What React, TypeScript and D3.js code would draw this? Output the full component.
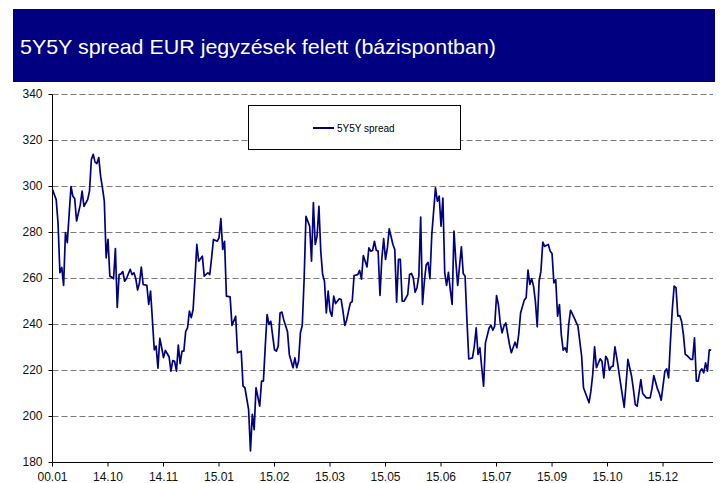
import React, { useEffect, useRef } from 'react';
import * as d3 from 'd3';

// observation number (trading day) and 5Y5Y spread in basis points
const obs = [
  0, 2, 3, 4, 5, 6, 7, 8, 9, 10, 11, 12, 13, 15, 16, 17, 19, 20, 21, 22, 23, 24, 25, 26, 27, 28, 29, 30,
  31, 32, 33, 34, 35, 36, 37, 38, 39, 40, 42, 43, 44, 45, 46, 47, 48, 49, 51, 52, 53, 54, 55, 56, 57, 58,
  59, 60, 61, 63, 64, 65, 66, 67, 68, 69, 70, 71, 72, 73, 74, 75, 76, 77, 78, 79, 81, 82, 84, 85, 86, 87,
  89, 90, 91, 92, 93, 94, 96, 97, 99, 100, 102, 103, 104, 106, 107, 108, 109, 110, 112, 113, 114, 115,
  116, 117, 118, 120, 121, 122, 123, 124, 125, 127, 128, 130, 131, 132, 133, 134, 135, 136, 137, 139,
  140, 141, 142, 143, 144, 145, 146, 147, 148, 149, 150, 151, 152, 153, 155, 156, 157, 158, 159, 160,
  161, 162, 163, 165, 166, 167, 168, 170, 171, 172, 173, 174, 175, 176, 177, 178, 179, 180, 181, 182,
  184, 185, 186, 187, 188, 189, 190, 192, 193, 194, 195, 196, 197, 198, 199, 200, 201, 202, 203, 204,
  205, 207, 208, 209, 210, 211, 212, 213, 214, 215, 216, 217, 218, 219, 221, 222, 223, 224, 225, 227,
  228, 229, 230, 231, 232, 233, 234, 236, 237, 238, 239, 240, 241, 242, 243, 244, 245, 247, 248, 250,
  251, 252, 253, 255, 256, 257, 258, 259, 260, 261, 262, 263, 264, 265, 266, 268, 269, 270, 271, 272,
  273, 274, 275, 276, 277, 278, 279, 280, 282, 283, 284, 286, 287, 288, 290, 291, 292, 293, 294, 296,
  297, 298, 299, 300, 301, 302, 303, 304, 305, 307, 309, 310, 311, 313, 314, 315, 316, 318, 319, 321,
  323, 324, 325, 327, 328, 329, 331, 332, 333, 334, 335, 336, 337, 338, 339, 340, 341, 342, 343, 345,
  346, 347, 348, 349, 350, 351, 352, 353, 354, 355, 356
];

const spread = [
  298.7, 294.3, 284, 262.5, 264.8, 257, 280, 275.6, 288, 300, 295.8, 294.8, 285, 292, 298, 291.4, 294.3,
  298, 311.7, 314, 310.6, 310, 312.6, 304.5, 299.4, 293.6, 269, 277, 261, 260.6, 259.9, 273, 247.4,
  261.7, 262, 263, 258.8, 260, 264, 261.7, 262.5, 260, 255, 258, 265, 257.4, 257, 248.7, 254.5, 242,
  229, 230.6, 221, 234, 230, 225.6, 228.7, 226, 219.7, 224.3, 224, 219.7, 231, 223, 228.4, 228.4, 237,
  238.5, 245.8, 243, 246.5, 259.6, 274.8, 267.5, 269.7, 261, 262.5, 261.7, 269, 277, 276.2, 277.7, 286,
  272.6, 276.2, 252.3, 252, 239.6, 243.6, 227.7, 228.4, 213.2, 212.5, 203, 185, 200.9, 194.3, 212.5,
  204.5, 215.4, 215.4, 230.6, 244.3, 240, 241.4, 229, 228.4, 230.6, 245, 245.4, 242, 237, 227, 221.2,
  225.5, 221.2, 224, 236.4, 239.6, 259.6, 287, 282.7, 267.5, 293, 274.8, 278.4, 291.4, 271.9, 261.7,
  258.8, 245, 254.5, 245.8, 243.6, 252.3, 249.1, 251.2, 250.9, 245.8, 239.6, 242, 245.8, 249.4, 250,
  261.3, 261.7, 263.5, 259.7, 270, 265, 273.3, 271.9, 272.2, 276.2, 272.3, 271.9, 252.6, 268.6, 277.3,
  268.3, 273.3, 281.6, 274.8, 272.6, 249.7, 268.3, 268.3, 250.1, 250.1, 253, 261.7, 262.2, 260.3, 254,
  256, 261, 286.7, 248.7, 258.8, 266, 267, 259.9, 279, 299.4, 293.6, 295.8, 282.7, 295, 262.5, 257,
  262.7, 255.2, 248.7, 280.6, 267.5, 257, 273.8, 262.2, 261, 242, 225, 225.5, 230.6, 238.5, 227, 229.9,
  221.2, 213.2, 232, 238.5, 239.7, 237.5, 239.3, 252.6, 248.7, 240.7, 236.4, 239.3, 240.7, 231.3, 227.7,
  232.3, 229.9, 235.7, 245, 250.6, 251.6, 263.6, 257.4, 259.9, 256.7, 250.1, 239, 258.8, 263.2, 275.8,
  274, 274.8, 271.9, 270.9, 258.1, 259.5, 243.6, 248.7, 235.7, 228.8, 229.9, 228, 240, 246.2, 242.9,
  241, 239.3, 226.2, 212.5, 210.3, 206, 211, 218.3, 230.3, 221.2, 225.1, 224, 216.8, 226.2, 224.8,
  220.1, 221.6, 221.9, 230.3, 225.5, 214.6, 204, 213.9, 224.8, 217.5, 211.7, 205.2, 204.5, 216, 210,
  208.1, 208.1, 212, 217.8, 212, 210, 207.1, 219.7, 220.7, 216.8, 232.7, 246.5, 256.7, 256, 243.6,
  243.9, 241.4, 235.7, 227, 226.5, 224.8, 224.8, 234.2, 215.4, 215.4, 219.7, 220.7, 219, 223.3, 219.7,
  229, 228.8
];

const obsCount = 358;
const xTickStep = 30;
const xTickLabels = ['00.01', '14.10', '14.11', '15.01', '15.02', '15.03', '15.05', '15.06', '15.07', '15.09', '15.10', '15.12'];
const yTicks = [180, 200, 220, 240, 260, 280, 300, 320, 340];

const title = '5Y5Y spread EUR jegyzések felett (bázispontban)';
const seriesName = '5Y5Y spread';

const FONT = "'Liberation Sans', Arial, Helvetica, sans-serif";
const NAVY = '#000080';

const App = () => {
  const ref = useRef<SVGSVGElement>(null);

  useEffect(() => {
    const svg = d3.select(ref.current);
    svg.selectAll('*').remove();

    const plot = { left: 52.5, right: 713, top: 94.5, bottom: 462.5 };

    const xScale = d3.scaleLinear().domain([0, obsCount - 1]).range([plot.left, plot.right]);
    const yScale = d3.scaleLinear().domain([180, 340]).range([plot.bottom, plot.top]);

    svg.append('rect').attr('width', 720).attr('height', 483).attr('fill', '#fff');

    // title banner
    svg.append('rect')
      .attr('x', 13).attr('y', 9).attr('width', 702).attr('height', 73)
      .attr('fill', NAVY);
    svg.append('text')
      .attr('x', 20).attr('y', 53.5)
      .attr('textLength', 476).attr('lengthAdjust', 'spacingAndGlyphs')
      .style('font-family', FONT).style('font-size', '21px')
      .attr('fill', '#fff')
      .text(title);

    // gridlines
    svg.append('g')
      .selectAll('line')
      .data(yTicks.filter((t) => t > 180))
      .join('line')
      .attr('x1', plot.left).attr('x2', plot.right)
      .attr('y1', (d) => yScale(d)).attr('y2', (d) => yScale(d))
      .attr('stroke', '#7a7a7a')
      .attr('stroke-dasharray', '6,3');

    // y axis
    const yAxis = d3.axisLeft(yScale).tickValues(yTicks).tickSize(4).tickSizeOuter(0).tickPadding(6).offset(0);
    const gy = svg.append('g').attr('transform', `translate(${plot.left},0)`).call(yAxis);

    // x axis
    const xAxis = d3.axisBottom(xScale)
      .tickValues(d3.range(0, xTickLabels.length * xTickStep, xTickStep))
      .tickFormat((d, i) => xTickLabels[i])
      .tickSize(4).tickSizeOuter(0).tickPadding(6).offset(0);
    const gx = svg.append('g').attr('transform', `translate(0,${plot.bottom})`).call(xAxis);

    [gx, gy].forEach((g) => {
      g.selectAll('path').attr('stroke', '#000');
      g.selectAll('line').attr('stroke', '#000');
      g.selectAll('text')
        .style('font-family', FONT).style('font-size', '12px').attr('fill', '#111');
    });

    // series line
    const line = d3.line<number>()
      .x((i) => xScale(obs[i]))
      .y((i) => yScale(spread[i]));
    svg.append('path')
      .attr('d', line(d3.range(spread.length)))
      .attr('fill', 'none')
      .attr('stroke', NAVY)
      .attr('stroke-width', 1.7)
      .attr('stroke-linejoin', 'round');

    // legend
    const legend = svg.append('g');
    legend.append('rect')
      .attr('x', 248.5).attr('y', 105.5).attr('width', 212).attr('height', 44)
      .attr('fill', '#fff').attr('stroke', '#000');
    legend.append('line')
      .attr('x1', 313).attr('x2', 334).attr('y1', 128).attr('y2', 128)
      .attr('stroke', NAVY).attr('stroke-width', 2);
    legend.append('text')
      .attr('x', 337).attr('y', 131.5)
      .style('font-family', FONT).style('font-size', '10px')
      .attr('fill', '#000')
      .text(seriesName);
  }, []);

  return (
    <svg
      ref={ref}
      width={720}
      height={483}
      style={{ position: 'absolute', left: 0, top: 0, display: 'block' }}
    />
  );
};

export default App;
